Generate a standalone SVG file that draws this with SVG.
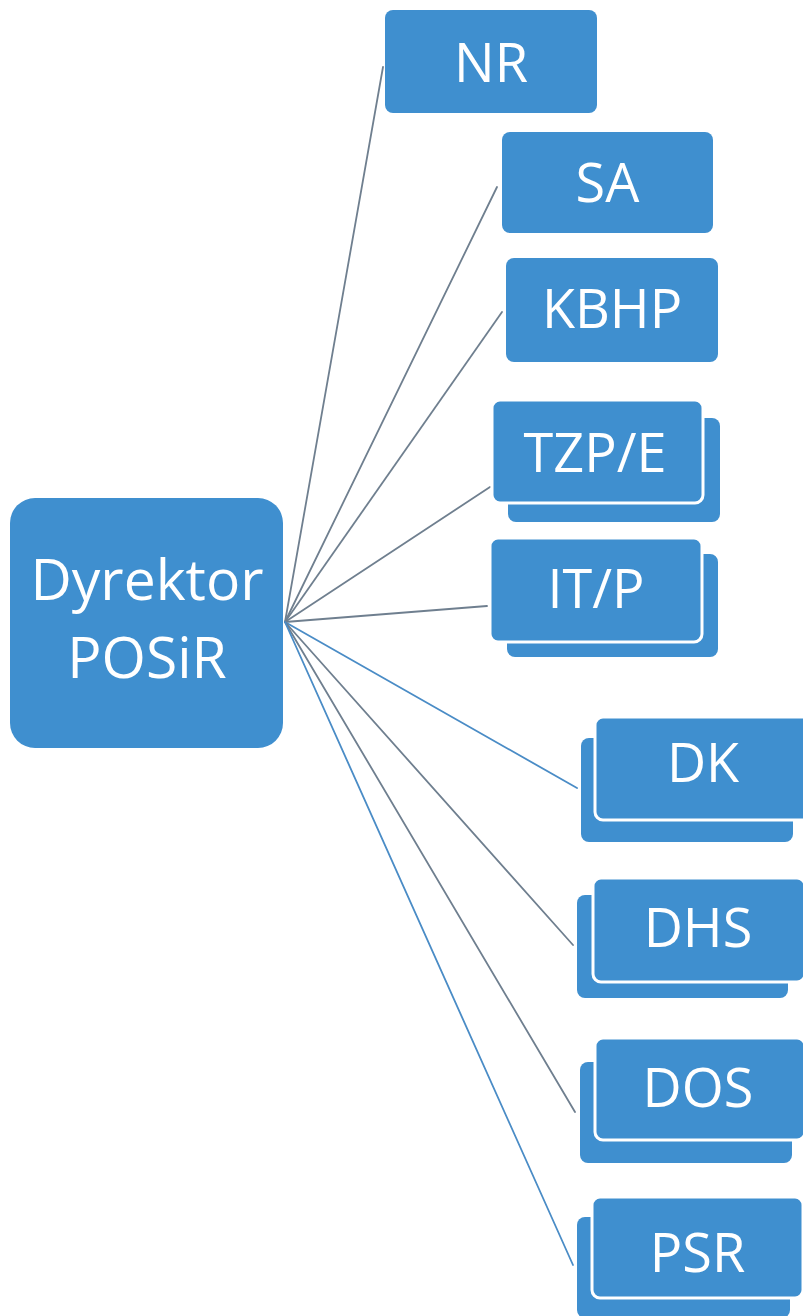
<svg xmlns="http://www.w3.org/2000/svg" width="803" height="1316" viewBox="0 0 803 1316">
<style>
.box{fill:#3f8fcf;}
.front{fill:#3f8fcf;stroke:#ffffff;stroke-width:3;}
.lbl{font-family:"Open Sans","Noto Sans",sans-serif;font-size:54px;fill:#ffffff;text-anchor:middle;}
.dir{font-size:57px;}
.c{fill:none;stroke-width:1.8;stroke-linecap:round;}
.g{stroke:#6f7f8f;}
.b{stroke:#4a8cc6;}
</style>
<rect width="803" height="1316" fill="#ffffff"/>
<g id="connectors">
<line class="c g" x1="285" y1="622" x2="383" y2="67"/>
<line class="c g" x1="285" y1="622" x2="497" y2="187"/>
<line class="c g" x1="285" y1="622" x2="502" y2="312"/>
<line class="c g" x1="285" y1="622" x2="490" y2="487"/>
<line class="c g" x1="285" y1="622" x2="487" y2="606"/>
<line class="c b" x1="285" y1="622" x2="577" y2="788"/>
<line class="c g" x1="285" y1="622" x2="573" y2="945"/>
<line class="c g" x1="285" y1="622" x2="575" y2="1112"/>
<line class="c b" x1="285" y1="622" x2="573" y2="1265"/>
</g>
<g id="dyrektor">
<rect class="box" x="10" y="498" width="273" height="250" rx="25"/>
<text class="lbl dir" x="147" y="600">Dyrektor</text>
<text class="lbl dir" x="147" y="678">POSiR</text>
</g>
<g id="nr">
<rect class="box" x="385" y="10" width="212" height="103" rx="8"/>
<text class="lbl" x="491" y="82">NR</text>
</g>
<g id="sa">
<rect class="box" x="502" y="132" width="211" height="101" rx="8"/>
<text class="lbl" x="607.5" y="202">SA</text>
</g>
<g id="kbhp">
<rect class="box" x="506" y="258" width="212" height="104" rx="8"/>
<text class="lbl" x="612" y="328">KBHP</text>
</g>
<g id="tzpe">
<rect class="box" x="508" y="418" width="212" height="104" rx="8"/>
<rect class="front" x="492" y="400" width="211" height="103" rx="8"/>
<text class="lbl" x="595" y="472">TZP/E</text>
</g>
<g id="itp">
<rect class="box" x="507" y="554" width="211" height="103" rx="8"/>
<rect class="front" x="490" y="538" width="212" height="104" rx="8"/>
<text class="lbl" x="596" y="608">IT/P</text>
</g>
<g id="dk">
<rect class="box" x="581" y="738" width="212" height="104" rx="8"/>
<rect class="front" x="595" y="717" width="215" height="103" rx="8"/>
<text class="lbl" x="703" y="782">DK</text>
</g>
<g id="dhs">
<rect class="box" x="577" y="895" width="211" height="103" rx="8"/>
<rect class="front" x="593" y="878" width="212" height="104" rx="8"/>
<text class="lbl" x="698" y="947">DHS</text>
</g>
<g id="dos">
<rect class="box" x="580" y="1062" width="212" height="101" rx="8"/>
<rect class="front" x="595" y="1038" width="210" height="102" rx="8"/>
<text class="lbl" x="698" y="1107">DOS</text>
</g>
<g id="psr">
<rect class="box" x="577" y="1217" width="213" height="101" rx="8"/>
<rect class="front" x="592" y="1197" width="211" height="101" rx="8"/>
<text class="lbl" x="697.5" y="1272">PSR</text>
</g>
</svg>
